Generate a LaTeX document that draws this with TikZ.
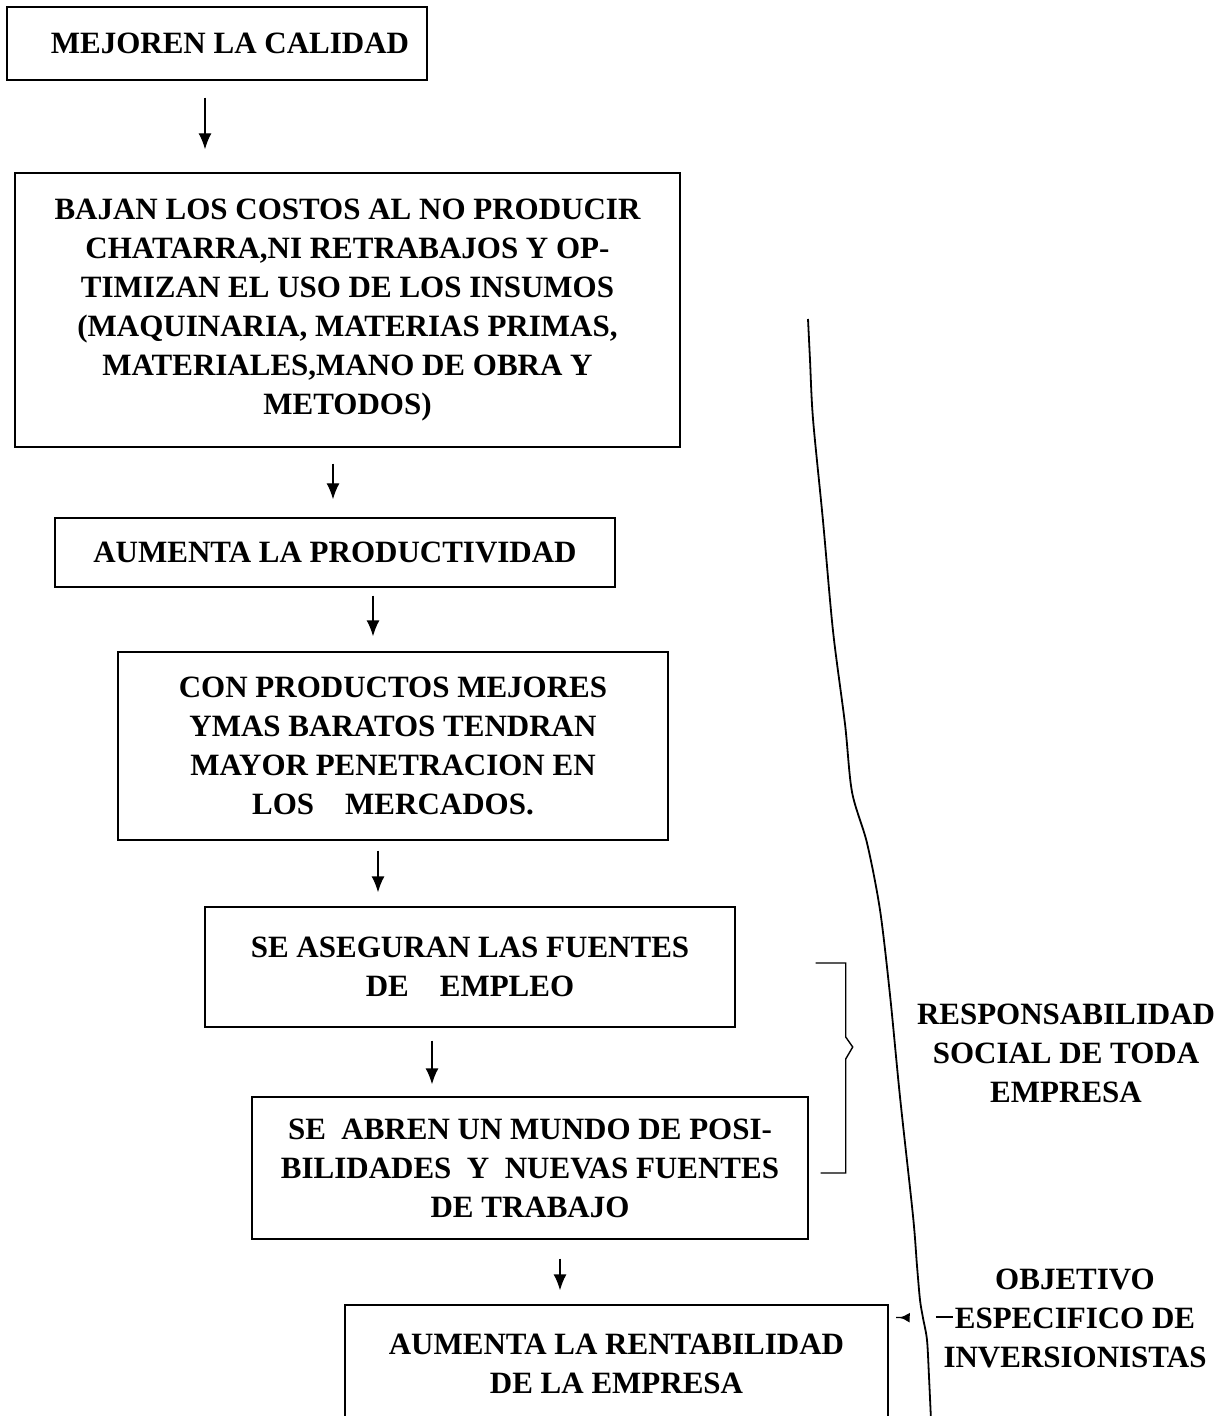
\documentclass[tikz,border=0pt]{standalone}
\usepackage{fontspec}
\setmainfont{Liberation Serif}
\usetikzlibrary{arrows.meta,calc}
\begin{document}
\begin{tikzpicture}[x=0.5pt,y=-0.5pt,
  txt/.style={font=\fontsize{15.5}{19.5}\selectfont\bfseries, align=center, inner sep=0pt},
  box/.style={txt, draw, line width=0.7pt},
  arr/.style={line width=0.7pt, -{Latex[length=8pt,width=6.5pt]}},
  sarr/.style={line width=0.7pt, -{Latex[length=5pt,width=5pt]}},
  ln/.style={line width=0.7pt}]
\useasboundingbox (0,0) rectangle (1228,1416);

% boxes (centre, size in px)
\node[box, minimum width=210pt, minimum height=36.5pt] (b1) at (217,43.5) {\hspace*{13pt}MEJOREN LA CALIDAD};
\node[box, minimum width=332.5pt, minimum height=137pt] (b2) at (347.5,310)
  {BAJAN LOS COSTOS AL NO PRODUCIR\\CHATARRA,NI RETRABAJOS Y OP-\\TIMIZAN EL USO DE LOS INSUMOS\\(MAQUINARIA, MATERIAS PRIMAS,\\MATERIALES,MANO DE OBRA Y\\METODOS)};
\node[box, minimum width=280pt, minimum height=34.5pt] (b3) at (335,552.5) {AUMENTA LA PRODUCTIVIDAD};
\node[box, minimum width=275pt, minimum height=94pt] (b4) at (393,746)
  {CON PRODUCTOS MEJORES\\YMAS BARATOS TENDRAN\\MAYOR PENETRACION EN\\LOS\quad MERCADOS.};
\node[box, minimum width=265pt, minimum height=60pt] (b5) at (470,967)
  {SE ASEGURAN LAS FUENTES\\DE\quad EMPLEO};
\node[box, minimum width=278pt, minimum height=71pt] (b6) at (530,1168)
  {SE\enspace ABREN UN MUNDO DE POSI-\\BILIDADES\enspace Y\enspace NUEVAS FUENTES\\DE TRABAJO};
\node[box, minimum width=271.5pt, minimum height=59pt] (b7) at (616.5,1364)
  {AUMENTA LA RENTABILIDAD\\DE LA EMPRESA};

% side labels
\node[txt] (resp) at (1066,1053) {RESPONSABILIDAD\\SOCIAL DE TODA\\EMPRESA};
\node[txt] (obj) at (1075,1318) {OBJETIVO\\\rlap{\hspace*{-9.5pt}\rule[5pt]{8.5pt}{0.8pt}}ESPECIFICO DE\\INVERSIONISTAS};

% arrow x positions
\coordinate (x1) at (205,0);
\coordinate (x2) at (333,0);
\coordinate (x3) at (373,0);
\coordinate (x4) at (378,0);
\coordinate (x5) at (432,0);
\coordinate (x6) at (560,0);

\draw[arr, shorten <=8.5pt, shorten >=11.5pt] (b1.south -| x1) -- (b2.north -| x1);
\draw[arr, shorten <=8pt, shorten >=9pt] (b2.south -| x2) -- (b3.north -| x2);
\draw[arr, shorten <=4pt, shorten >=7.5pt] (b3.south -| x3) -- (b4.north -| x3);
\draw[arr, shorten <=5pt, shorten >=7pt] (b4.south -| x4) -- (b5.north -| x4);
\draw[arr, shorten <=6.5pt, shorten >=6pt] (b5.south -| x5) -- (b6.north -| x5);
\draw[arr, shorten <=9.5pt, shorten >=7pt] (b6.south -| x6) -- (b7.north -| x6);

% bracket joining boxes 5 and 6
\draw[ln] ([xshift=40pt,yshift=2pt]b5.east) -- ++(15pt,0) coordinate (bt)
  -- ($(bt)+(0,-37pt)$) -- ++(3.5pt,-5pt) -- ++(-3.5pt,-6pt)
  |- ([xshift=6pt,yshift=-2.5pt]b6.east);

% arrow from label to box 7 (only its head shows, left of the curve)
\draw[sarr, shorten <=14pt, shorten >=5.5pt] ([xshift=-9.5pt]obj.west) -- ([yshift=-6.5pt]b7.north east);

% long curved brace line
\draw[ln, line width=0.9pt] plot[smooth, tension=0.5] coordinates {
 (808,319) (810,360) (813,419) (823,521) (833,631) (845,724) (852,792)
 (867,843) (880,910) (890,995) (900,1097) (913,1216) (917,1266)
 (920,1300) (923,1318) (927,1340) (929,1377) (931,1420)};
\end{tikzpicture}
\end{document}
